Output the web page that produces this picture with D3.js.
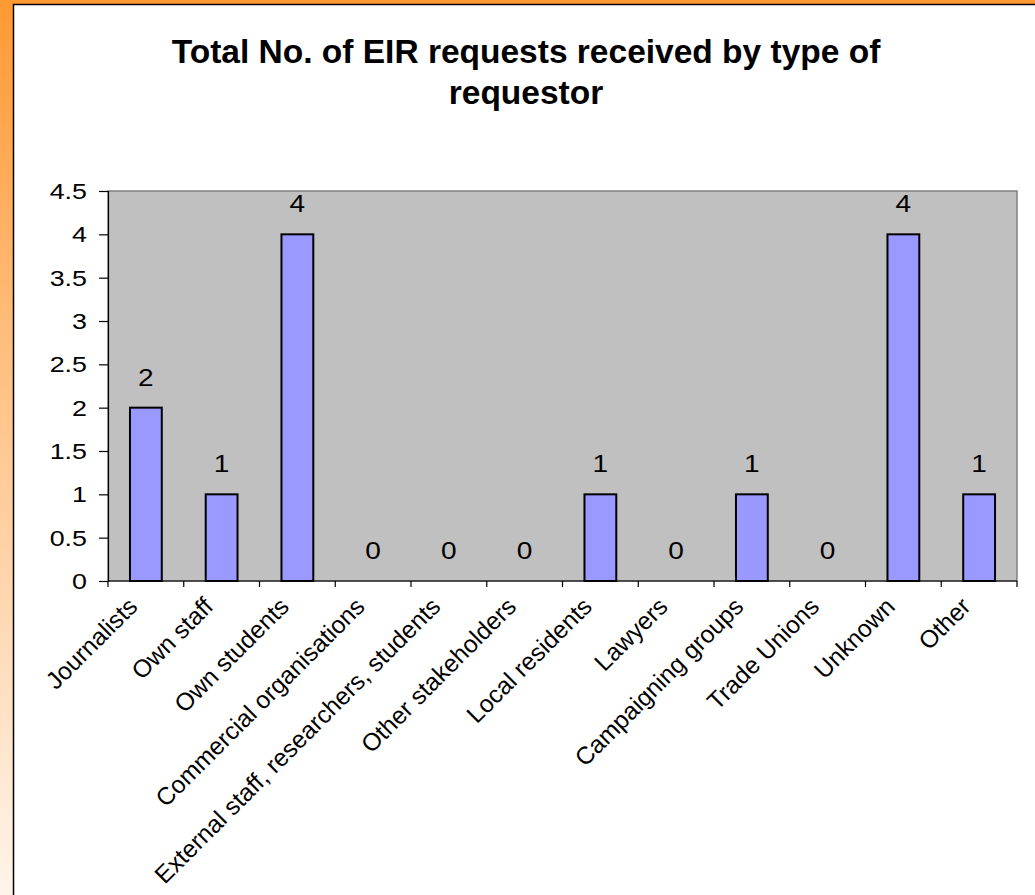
<!DOCTYPE html>
<html>
<head>
<meta charset="utf-8">
<script src="https://cdn.jsdelivr.net/npm/d3@7"></script>
<style>
  html, body { margin: 0; padding: 0; background: #fff; }
  svg { display: block; }
  text { font-family: "Liberation Sans", Arial, sans-serif; fill: #000; }
</style>
</head>
<body>
<svg id="chart" width="1035" height="895"></svg>
<script>
const categories = ["Journalists", "Own staff", "Own students", "Commercial organisations",
  "External staff, researchers, students", "Other stakeholders", "Local residents", "Lawyers",
  "Campaigning groups", "Trade Unions", "Unknown", "Other"];
const values = [2, 1, 4, 0, 0, 0, 1, 0, 1, 0, 4, 1];
const yTicks = [0, 0.5, 1, 1.5, 2, 2.5, 3, 3.5, 4, 4.5];
const titleLines = ["Total No. of EIR requests received by type of", "requestor"];

const W = 1035, H = 895;
const svg = d3.select("#chart");
const STRETCH = 1.22;

// Background: orange gradient frame
const defs = svg.append("defs");
const grad = defs.append("linearGradient").attr("id", "frame").attr("x1", 0).attr("y1", 0).attr("x2", 0).attr("y2", 1);
grad.append("stop").attr("offset", "0%").attr("stop-color", "#FF9933");
grad.append("stop").attr("offset", "45%").attr("stop-color", "#FFC48A");
grad.append("stop").attr("offset", "100%").attr("stop-color", "#FFF4EA");
svg.append("rect").attr("x", 0).attr("y", 0).attr("width", W).attr("height", H).attr("fill", "url(#frame)");

// White panel
svg.append("rect").attr("x", 13.5).attr("y", 4.5).attr("width", W + 10).attr("height", H + 10)
  .attr("fill", "#fff").attr("stroke", "#000").attr("stroke-width", 1.5);

// Title
const title = svg.append("text").attr("text-anchor", "middle")
  .style("font-size", "33.5px").style("font-weight", "bold");
titleLines.forEach((t, i) => {
  title.append("tspan").attr("x", 526).attr("y", 63 + i * 41).text(t);
});

const plot = { left: 108, right: 1017, top: 191, bottom: 581 };
const x = d3.scaleBand().domain(categories).range([plot.left, plot.right]).padding(0);
const y = d3.scaleLinear().domain([0, 4.5]).range([plot.bottom, plot.top]);

// Plot area
svg.append("rect").attr("x", plot.left).attr("y", plot.top)
  .attr("width", plot.right - plot.left).attr("height", plot.bottom - plot.top)
  .attr("fill", "#C0C0C0").attr("stroke", "#808080").attr("stroke-width", 1.5);

const data = categories.map((c, i) => ({ c, v: values[i] }));

// Bars
const bw = x.bandwidth() * 0.42;
svg.append("g").selectAll("rect").data(data.filter(d => d.v > 0))
  .join("rect")
  .attr("x", d => x(d.c) + x.bandwidth() / 2 - bw / 2)
  .attr("y", d => y(d.v))
  .attr("width", bw)
  .attr("height", d => y(0) - y(d.v))
  .attr("fill", "#9999FF").attr("stroke", "#000").attr("stroke-width", 2);

// Value labels
svg.append("g").selectAll("g").data(data)
  .join("g")
  .attr("transform", d => `translate(${x(d.c) + x.bandwidth() / 2},${y(d.v) - 22})`)
  .append("text")
  .attr("transform", `scale(${STRETCH},1)`)
  .attr("text-anchor", "middle")
  .style("font-size", "23px")
  .text(d => d.v);

// Y axis
const yAxis = d3.axisLeft(y).tickValues(yTicks).tickSize(9).tickFormat(() => "");
const gy = svg.append("g").attr("transform", `translate(${plot.left},0)`).call(yAxis);
gy.select(".domain").attr("stroke", "#000").attr("stroke-width", 1.2);
gy.selectAll(".tick line").attr("stroke", "#000").attr("stroke-width", 1.2);
svg.append("g").selectAll("g").data(yTicks).join("g")
  .attr("transform", d => `translate(${plot.left - 21},${y(d)})`)
  .append("text")
  .attr("transform", `scale(${STRETCH},1)`)
  .attr("text-anchor", "end")
  .attr("dy", "0.36em")
  .style("font-size", "22px")
  .text(d => d3.format("")(d));

// X axis
const tickPos = d3.range(categories.length + 1).map(i => plot.left + i * x.bandwidth());
const gx = svg.append("g");
gx.append("line").attr("x1", plot.left).attr("x2", plot.right).attr("y1", plot.bottom).attr("y2", plot.bottom)
  .attr("stroke", "#000").attr("stroke-width", 1.2);
gx.selectAll("line.t").data(tickPos).join("line").attr("class", "t")
  .attr("x1", d => d).attr("x2", d => d).attr("y1", plot.bottom).attr("y2", plot.bottom + 6)
  .attr("stroke", "#000").attr("stroke-width", 1.2);
gx.selectAll("text").data(categories).join("text")
  .attr("transform", d => `translate(${x(d) + x.bandwidth() / 2 - 20},595) rotate(-45)`)
  .attr("text-anchor", "end")
  .attr("dy", "0.75em")
  .style("font-size", "24.5px")
  .text(d => d);
</script>
</body>
</html>
